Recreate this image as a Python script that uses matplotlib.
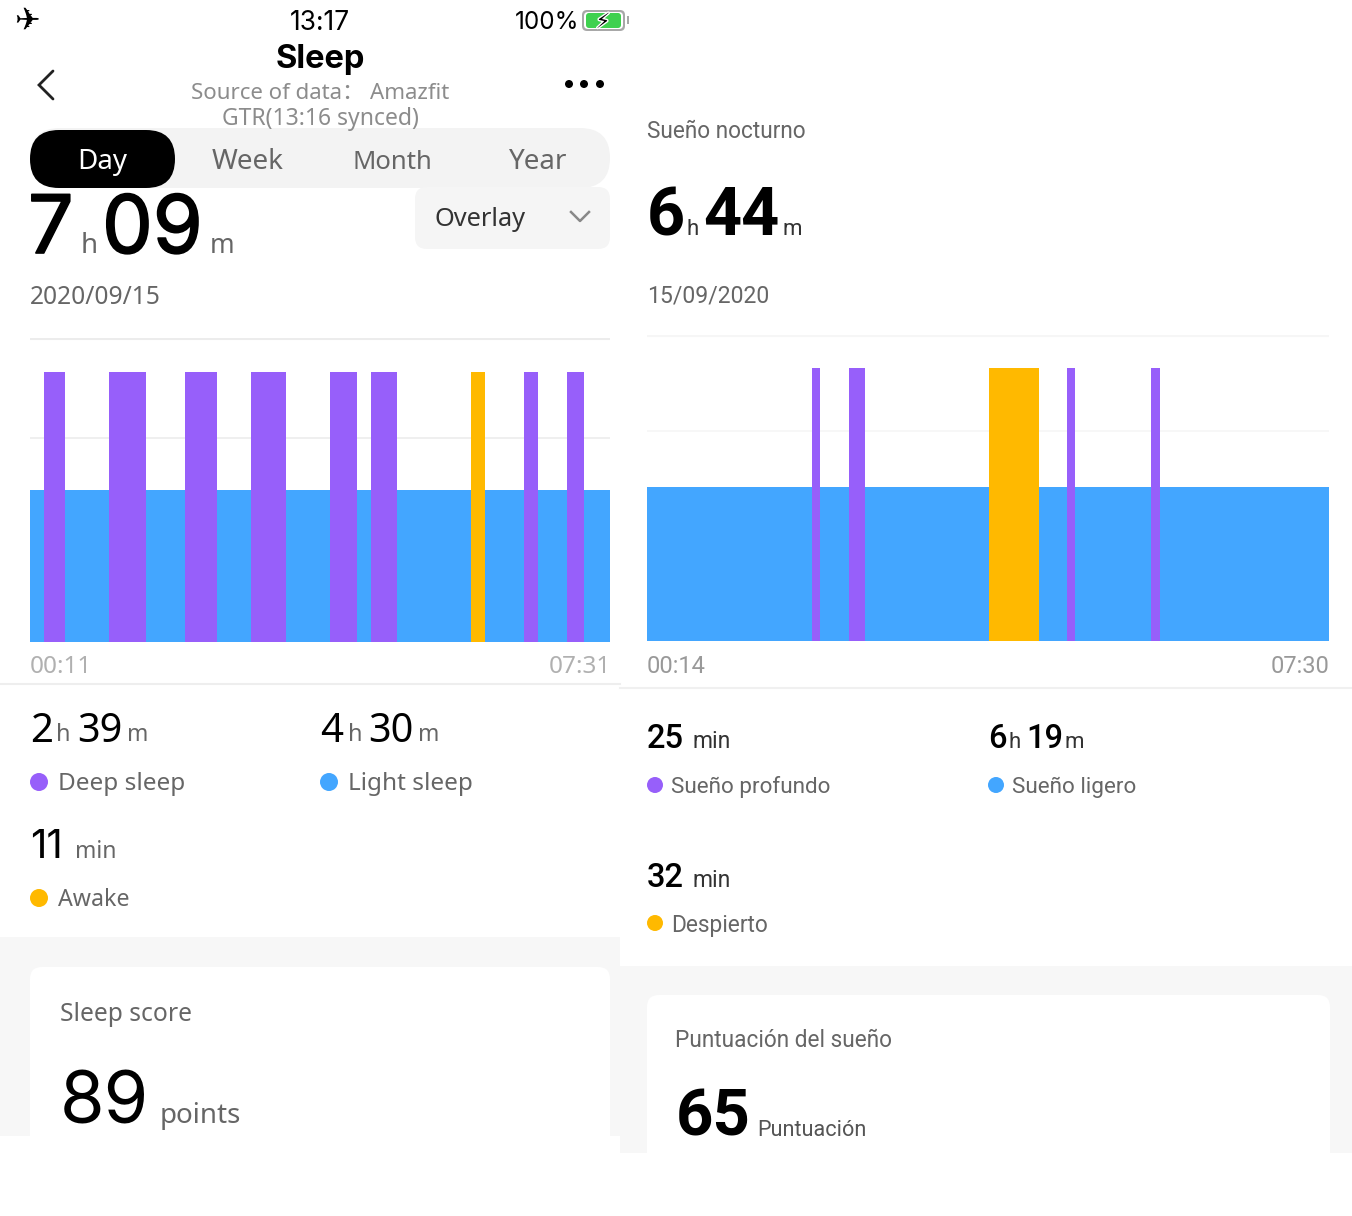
#! /usr/bin/python

import matplotlib
matplotlib.use('Agg')
import matplotlib.pyplot as plt
import matplotlib.patheffects as pe
from matplotlib.patches import FancyBboxPatch, Rectangle, Circle

# sleep stages, minutes after the first time on the axis: (start, length)
left_span = 440
left_deep = [(10.6, 16), (60, 28), (117.6, 24), (167.7, 26.5), (227.6, 20.5), (258.7, 19.7), (374.8, 10.6), (407.4, 12.9)]
left_awake = [(334.6, 10.6)]
left_labels = ['00:11', '07:31']

right_span = 436
right_deep = [(105.5, 5), (129, 10.2), (268.5, 5), (322, 5.8)]
right_awake = [(218.7, 32)]
right_labels = ['00:14', '07:30']

light_level = 0.563
tall_level = 1.0

PURPLE = '#975ffa'
BLUE = '#43a6ff'
ORANGE = '#ffb900'
GREY = '#8c8c8c'
DARK = '#666666'

L_FONT = 'Noto Sans'
R_FONT = 'Roboto'


def txt(ax, x, y, s, size, color='black', family=L_FONT, ha='left', weight='normal', **kw):
    return ax.text(x, y, s, fontsize=size, color=color, family=family, ha=ha, va='baseline', fontweight=weight, **kw)


def round_box(ax, x0, y0, x1, y1, r, color, z=1):
    ax.add_patch(FancyBboxPatch((x0 + r, y0 + r), x1 - x0 - 2 * r, y1 - y0 - 2 * r,
                                boxstyle='round,pad=%g,rounding_size=%g' % (r, r),
                                fc=color, ec='none', zorder=z))


def sleep_chart(fig, box, span, deep, awake, grid_color, mid_level, top_level):
    # box is left, top, right, bottom in pixels
    W, H = 1352, 1216
    ax = fig.add_axes([box[0] / W, 1 - box[3] / H, (box[2] - box[0]) / W, (box[3] - box[1]) / H])
    ax.patch.set_alpha(0)
    ax.set_xlim(0, span)
    ax.set_ylim(0, top_level)
    ax.axis('off')
    ax.axhline(top_level * 0.998, color=grid_color, lw=1.5, zorder=1)
    ax.axhline(mid_level, color=grid_color, lw=1.2, zorder=1)
    ax.bar([0], [light_level], width=span, align='edge', color=BLUE, zorder=2)
    ax.bar([d[0] for d in deep], [tall_level] * len(deep), width=[d[1] for d in deep],
           align='edge', color=PURPLE, zorder=3)
    ax.bar([d[0] for d in awake], [tall_level] * len(awake), width=[d[1] for d in awake],
           align='edge', color=ORANGE, zorder=3)
    return ax


fig = plt.figure(figsize=(13.52, 12.16), dpi=100)
bg = fig.add_axes([0, 0, 1, 1])
bg.set_xlim(0, 1352)
bg.set_ylim(1216, 0)
bg.axis('off')

# grey page background and the white cards
bg.add_patch(Rectangle((0, 937), 620, 199, fc='#f7f7f7', ec='none', zorder=0))
bg.add_patch(Rectangle((620, 966), 732, 187, fc='#f7f7f7', ec='none', zorder=0))
bg.add_patch(FancyBboxPatch((42, 979), 556, 170, boxstyle='round,pad=12,rounding_size=12', fc='white', ec='none', zorder=1))
bg.add_patch(FancyBboxPatch((659, 1007), 659, 160, boxstyle='round,pad=12,rounding_size=12', fc='white', ec='none', zorder=1))
bg.add_patch(Rectangle((0, 1136), 620, 80, fc='white', ec='none', zorder=2))
bg.add_patch(Rectangle((620, 1153), 732, 63, fc='white', ec='none', zorder=2))

# status bar
txt(bg, 14, 30, '\u2708', 22, family='DejaVu Sans')
txt(bg, 320, 30, '13:17', 19, ha='center', family='Inter')
txt(bg, 515, 29, '100%', 17.5, family='Inter')
round_box(bg, 582, 10, 625, 31, 5, '#a8a8a8', 2)
round_box(bg, 584, 12, 623, 29, 4, 'white', 3)
round_box(bg, 586, 13, 621, 28, 3, '#3fd14f', 4)
bg.add_patch(Rectangle((627, 16), 2, 8, fc='#a8a8a8', ec='none'))
bolt = txt(bg, 603, 28, '\u26a1', 15, family='DejaVu Sans', ha='center', zorder=5)
bolt.set_path_effects([pe.withStroke(linewidth=2, foreground='white')])

# header
txt(bg, 320, 68, 'Sleep', 23.5, ha='center', weight='bold', family='Inter')
bg.plot([53, 39, 53], [71, 85, 99], color='#222222', lw=2, solid_capstyle='round', solid_joinstyle='miter')
txt(bg, 320, 99, 'Source of data\uff1a Amazfit', 16, color=GREY, ha='center', family=[L_FONT, 'Noto Sans CJK SC'])
txt(bg, 320, 125, 'GTR(13:16 synced)', 16.5, color=GREY, ha='center')
for dot_x in [569, 584, 600]:
    bg.add_patch(Circle((dot_x, 84), 4, fc='black', ec='none'))

# Day/Week/Month/Year switch
round_box(bg, 30, 128, 610, 188, 30, '#f3f3f3', 1)
round_box(bg, 30, 130, 175, 188, 29, 'black', 2)
tabs = ['Day', 'Week', 'Month', 'Year']
tab_x = [102, 248, 392, 538]
tab_size = [20, 20, 18.5, 20]
for name, tx, ts in zip(tabs, tab_x, tab_size):
    txt(bg, tx, 169, name, ts, color='white' if name == 'Day' else '#666666', ha='center', zorder=4)

# overlay dropdown
round_box(bg, 415, 187, 610, 249, 12, '#f5f5f5', 1)
txt(bg, 435, 226, 'Overlay', 18.3, color='#333333')
bg.plot([571, 580, 589], [212, 221, 212], color='#888888', lw=1.8)

# totals
thick = [pe.withStroke(linewidth=1.2, foreground='black')]
txt(bg, 28, 253, '7', 58, family='Inter', path_effects=thick)
txt(bg, 81, 253, 'h', 20, color=DARK)
txt(bg, 102, 253, '09', 58, family='Inter', path_effects=thick)
txt(bg, 210, 253, 'm', 19, color=DARK)
txt(bg, 30, 304, '2020/09/15', 17.7, color=DARK)

# left chart
sleep_chart(fig, (30, 338, 610, 642), left_span, left_deep, left_awake, '#ececec', 0.756, 1.126)
txt(bg, 30, 673, left_labels[0], 17.5, color='#b0b0b0')
txt(bg, 611, 673, left_labels[1], 17.5, color='#b0b0b0', ha='right')
bg.plot([0, 620], [684, 684], color='#eeeeee', lw=1.5)

# left stats
txt(bg, 30, 742, '2', 29)
txt(bg, 56, 741, 'h', 17, color=DARK)
txt(bg, 77, 742, '39', 28.5)
txt(bg, 127, 741, 'm', 16.5, color=DARK)
txt(bg, 320, 742, '4', 29)
txt(bg, 348, 741, 'h', 17, color=DARK)
txt(bg, 368, 742, '30', 28.5)
txt(bg, 418, 741, 'm', 16.5, color=DARK)
txt(bg, 30, 858, '11', 29, family='Inter')
txt(bg, 75, 858, 'min', 16.5, color=DARK)
left_legend = [(39, 782, 'Deep sleep', PURPLE, 17.5), (329, 782, 'Light sleep', BLUE, 17.5), (39, 898, 'Awake', ORANGE, 16.7)]
for lx, ly, name, col, ls in left_legend:
    bg.add_patch(Circle((lx, ly), 9, fc=col, ec='none'))
    txt(bg, lx + 19, ly + 8, name, ls, color=DARK)

# left score
txt(bg, 60, 1021, 'Sleep score', 17.7, color=DARK)
txt(bg, 60, 1124, '89', 52, family='Inter')
txt(bg, 160, 1123, 'points', 20, color=DARK)

# right header
txt(bg, 647, 138, 'Sueño nocturno', 16.3, color=DARK, family=R_FONT)
txt(bg, 647, 235, '6', 48, family=R_FONT, weight='bold')
txt(bg, 687, 235, 'h', 16, family=R_FONT, color='#333333')
txt(bg, 703, 235, '44', 48, family=R_FONT, weight='bold')
txt(bg, 782, 235, 'm', 16, family=R_FONT, color='#333333')
txt(bg, 647, 303, '15/09/2020', 16.6, color=DARK, family=R_FONT)

# right chart
sleep_chart(fig, (647, 335, 1329, 641), right_span, right_deep, right_awake, '#f6f6f6', 0.769, 1.121)
txt(bg, 647, 673, right_labels[0], 17, color='#999999', family=R_FONT)
txt(bg, 1329, 673, right_labels[1], 17, color='#999999', family=R_FONT, ha='right')
bg.plot([620, 1352], [688, 688], color='#f0f0f0', lw=1.5)

# right stats
txt(bg, 647, 748, '25', 23.5, family=R_FONT, weight='medium')
txt(bg, 692, 748, 'min', 16.5, family=R_FONT, color='#333333')
txt(bg, 988, 748, '6', 23.5, family=R_FONT, weight='medium')
txt(bg, 1009, 748, 'h', 16, family=R_FONT, color='#333333')
txt(bg, 1026, 748, '19', 23.5, family=R_FONT, weight='medium')
txt(bg, 1065, 748, 'm', 16, family=R_FONT, color='#333333')
txt(bg, 647, 887, '32', 23.5, family=R_FONT, weight='medium')
txt(bg, 692, 887, 'min', 16.5, family=R_FONT, color='#333333')
right_legend = [(655, 785, 'Sueño profundo', PURPLE, 16.2, 8), (996, 785, 'Sueño ligero', BLUE, 16.2, 8), (655, 923, 'Despierto', ORANGE, 16.4, 9)]
for lx, ly, name, col, ls, dy in right_legend:
    bg.add_patch(Circle((lx, ly), 8, fc=col, ec='none'))
    txt(bg, lx + 16, ly + dy, name, ls, color=DARK, family=R_FONT)

# right score
txt(bg, 675, 1047, 'Puntuación del sueño', 16.3, color=DARK, family=R_FONT)
txt(bg, 676, 1135, '65', 47, family=R_FONT, weight='bold', zorder=3)
txt(bg, 757, 1136, 'Puntuación', 15.6, color='#555555', family=R_FONT, zorder=3)

fig.savefig('out.png', dpi=100, facecolor='white')
